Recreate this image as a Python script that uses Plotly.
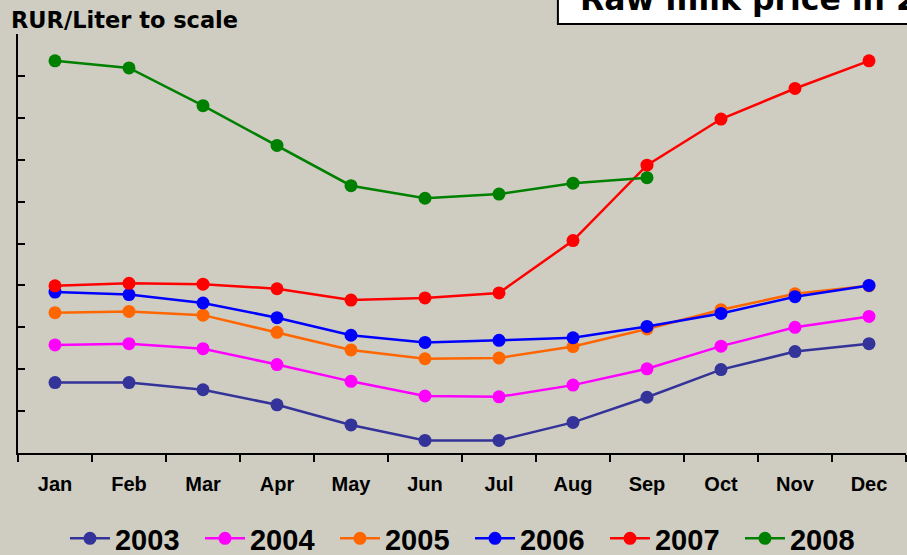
import plotly.graph_objects as go

months = ["Jan", "Feb", "Mar", "Apr", "May", "Jun", "Jul", "Aug", "Sep", "Oct", "Nov", "Dec"]

# RUR/Liter, plotted to scale (axis units, no labels)
y2003 = [1.68, 1.68, 1.51, 1.15, 0.67, 0.30, 0.30, 0.73, 1.33, 1.99, 2.42, 2.61]
y2004 = [2.58, 2.61, 2.49, 2.11, 1.71, 1.36, 1.34, 1.62, 2.01, 2.55, 3.00, 3.26]
y2005 = [3.35, 3.38, 3.29, 2.88, 2.46, 2.25, 2.27, 2.54, 2.96, 3.42, 3.80, 3.99]
y2006 = [3.84, 3.78, 3.58, 3.23, 2.81, 2.64, 2.69, 2.75, 3.02, 3.33, 3.73, 4.00]
y2007 = [3.99, 4.05, 4.03, 3.92, 3.65, 3.70, 3.82, 5.07, 6.87, 7.97, 8.70, 9.36]
y2008 = [9.36, 9.19, 8.29, 7.34, 6.38, 6.08, 6.18, 6.44, 6.57]

series = [
    ("2003", y2003, "#333399"),
    ("2004", y2004, "#FF00FF"),
    ("2005", y2005, "#FF6600"),
    ("2006", y2006, "#0000FF"),
    ("2007", y2007, "#FF0000"),
    ("2008", y2008, "#008000"),
]

FONT = "Liberation Sans, Arial, sans-serif"
WIDE = "DejaVu Sans, Verdana, sans-serif"
BG = "#CFCDC2"

fig = go.Figure()
for name, vals, color in series:
    fig.add_trace(go.Scatter(
        x=months[:len(vals)], y=vals, name=f"<b>{name}</b>",
        mode="lines+markers",
        line=dict(color=color, width=2.5),
        marker=dict(color=color, size=13),
    ))

fig.update_layout(
    width=907, height=555,
    margin=dict(l=18, r=1, t=34, b=102, autoexpand=False),
    paper_bgcolor=BG, plot_bgcolor=BG,
    font=dict(family=FONT, color="black"),
    showlegend=True,
    legend=dict(
        orientation="h", x=0.509, xanchor="center", y=-0.204, yanchor="middle",
        font=dict(size=29, family=FONT, color="black"),
        bgcolor="rgba(0,0,0,0)", itemwidth=40,
        entrywidth=80, entrywidthmode="pixels",
    ),
    xaxis=dict(
        type="category", categoryorder="array", categoryarray=months,
        range=[-0.5, 11.5], showgrid=False, zeroline=False,
        showline=True, linecolor="black", linewidth=2,
        ticks="outside", ticklen=7, tickwidth=1.5, tickcolor="black",
        tickson="boundaries", ticklabelstandoff=12,
        tickvals=months, ticktext=[f"<b>{m}</b>" for m in months],
        tickfont=dict(size=20, family=FONT, color="black"),
    ),
    yaxis=dict(
        range=[0, 10], dtick=1, tick0=0, showgrid=False, zeroline=False,
        showline=True, linecolor="black", linewidth=2,
        ticks="inside", ticklen=7, tickwidth=1.5, tickcolor="black",
        showticklabels=False,
    ),
)

# unit label above the value axis
fig.add_annotation(
    xref="paper", yref="paper", x=-0.0101, y=1.0339,
    xanchor="left", yanchor="middle", showarrow=False,
    text="<b>RUR/Liter to scale</b>",
    font=dict(size=22.5, family=WIDE, color="black"),
)

# title box in the top-right corner, running off the page edge
fig.add_shape(
    type="rect", xref="paper", yref="paper",
    x0=0.608, x1=1.03, y0=1.0239, y1=1.14,
    fillcolor="white", line=dict(color="black", width=2), layer="above",
)
fig.add_annotation(
    xref="paper", yref="paper", x=0.631, y=1.083,
    xanchor="left", yanchor="middle", showarrow=False,
    text="<b>Raw milk price in 2003-2008</b>",
    font=dict(size=31.5, family=WIDE, color="black"),
)

fig.write_html("out.html")
